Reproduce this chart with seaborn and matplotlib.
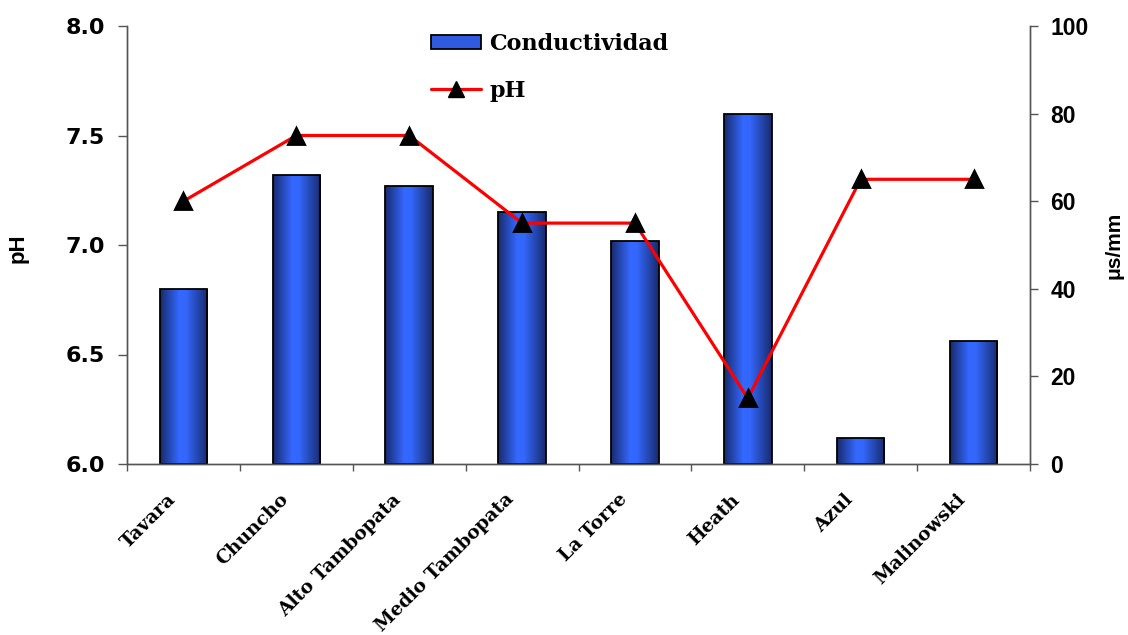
import numpy as np
import pandas as pd
import matplotlib
matplotlib.use("Agg")
import matplotlib.pyplot as plt
from matplotlib.colors import LinearSegmentedColormap
from matplotlib.patches import Patch
from matplotlib.lines import Line2D
from matplotlib.transforms import ScaledTranslation
import seaborn as sns

# Data
sites = ["Tavara", "Chuncho", "Alto Tambopata", "Medio Tambopata",
         "La Torre", "Heath", "Azul", "Malinowski"]
conductividad = [40, 66, 63.5, 57.5, 51, 80, 6, 28]   # us/mm (right axis)
ph = [7.2, 7.5, 7.5, 7.1, 7.1, 6.3, 7.3, 7.3]          # pH (left axis)
ph_ticks = [6.0, 6.5, 7.0, 7.5, 8.0]
cond_ticks = [0, 20, 40, 60, 80, 100]

df = pd.DataFrame({"sitio": sites, "cond": conductividad, "ph": ph})

sns.set_style("white")
plt.rcParams["font.family"] = ["DejaVu Sans"]
plt.rcParams["text.color"] = "black"
plt.rcParams["axes.labelcolor"] = "black"
plt.rcParams["xtick.color"] = "black"
plt.rcParams["ytick.color"] = "black"

fig = plt.figure(figsize=(11.28, 6.35), dpi=100)
ax1 = fig.add_axes([127 / 1128, 1 - 464 / 635, 903 / 1128, 438 / 635])
ax2 = ax1.twinx()
ax1.set_zorder(ax2.get_zorder() + 1)
ax1.patch.set_visible(False)

# Bars for conductivity on the right axis
sns.barplot(data=df, x="sitio", y="cond", ax=ax2, width=0.42,
            color="#2f5be0", edgecolor="black", linewidth=1.3, errorbar=None)

# horizontal gradient inside each bar
cmap = LinearSegmentedColormap.from_list(
    "bar", [(0, "#172a6c"), (0.4, "#3468ff"), (0.55, "#3366fa"), (1, "#172a6c")])
grad = np.linspace(0, 1, 256).reshape(1, -1)
for p in ax2.patches:
    x0, y0 = p.get_x(), p.get_y()
    w, h = p.get_width(), p.get_height()
    im = ax2.imshow(grad, cmap=cmap, aspect="auto", extent=[x0, x0 + w, y0, y0 + h],
                    zorder=p.get_zorder() + 0.1, interpolation="bilinear")
    im.set_clip_path(p)
    p.set_zorder(p.get_zorder() + 0.2)
    p.set_facecolor("none")

# pH line on the left axis
sns.pointplot(data=df, x="sitio", y="ph", ax=ax1, color="red", markers="",
              linewidth=2.3, errorbar=None)
sns.pointplot(data=df, x="sitio", y="ph", ax=ax1, color="black", markers="^",
              linestyles="none", markersize=11.5, errorbar=None)

n = len(sites)
ax1.set_xlim(-0.5, n - 0.5)
ax2.set_xlim(-0.5, n - 0.5)
ax1.set_ylim(6.0, 8.0)
ax2.set_ylim(0, 100)

# ticks
ax1.set_yticks(ph_ticks)
ax1.set_yticklabels([f"{v:.1f}" for v in ph_ticks], fontsize=16, fontweight="bold",
                    family="DejaVu Sans")
ax2.set_yticks(cond_ticks)
ax2.set_yticklabels([str(v) for v in cond_ticks], fontsize=16.5, fontweight="bold",
                    family="Liberation Sans")
ax1.tick_params(axis="y", left=True, length=6.5, width=1, color="#555555", pad=9.5)
ax2.tick_params(axis="y", right=True, length=5.5, width=1, color="#555555", pad=9)

ax1.set_xticks(range(n))
ax1.set_xticklabels(sites, rotation=45, ha="right", va="top", rotation_mode="anchor",
                    fontsize=13.5, fontweight="bold", family="DejaVu Serif")
ax1.set_xticks(np.arange(-0.5, n), minor=True)
ax1.tick_params(axis="x", which="major", length=0, pad=19)
ax1.tick_params(axis="x", which="minor", bottom=True, length=5, width=1, color="#555555")
shift = ScaledTranslation(-17 / 100, 0, fig.dpi_scale_trans)
for lab in ax1.get_xticklabels():
    lab.set_transform(lab.get_transform() + shift)
ax2.tick_params(axis="x", bottom=False, labelbottom=False)
ax2.set_xlabel("")
ax1.set_xlabel("")

ax1.set_ylabel("pH", fontsize=16, fontweight="bold", family="Liberation Sans")
ax1.yaxis.set_label_coords(-0.109, 0.493)
ax2.set_ylabel("μs/mm", fontsize=15, fontweight="bold", family="Liberation Sans",
               rotation=90)
ax2.yaxis.set_label_coords(1.083, 0.5)

for a in (ax1, ax2):
    a.spines["top"].set_visible(False)
    for s in ("left", "right", "bottom"):
        a.spines[s].set_color("#555555")
        a.spines[s].set_linewidth(1)

# legend
handles = [Patch(facecolor="#2f5be0", edgecolor="black", linewidth=1.3),
           Line2D([], [], color="red", linewidth=2.3, marker="^", markersize=11.5,
                  markerfacecolor="black", markeredgecolor="black")]
fig.legend(handles, ["Conductividad", "pH"], loc="upper left",
           bbox_to_anchor=(431 / 1128, 1 - 33 / 635), frameon=False,
           prop={"family": "DejaVu Serif", "weight": "bold", "size": 16},
           handlelength=2.25, handleheight=0.63, handletextpad=0.36,
           labelspacing=1.12, borderpad=0, borderaxespad=0)

fig.savefig("out.png", dpi=100)
